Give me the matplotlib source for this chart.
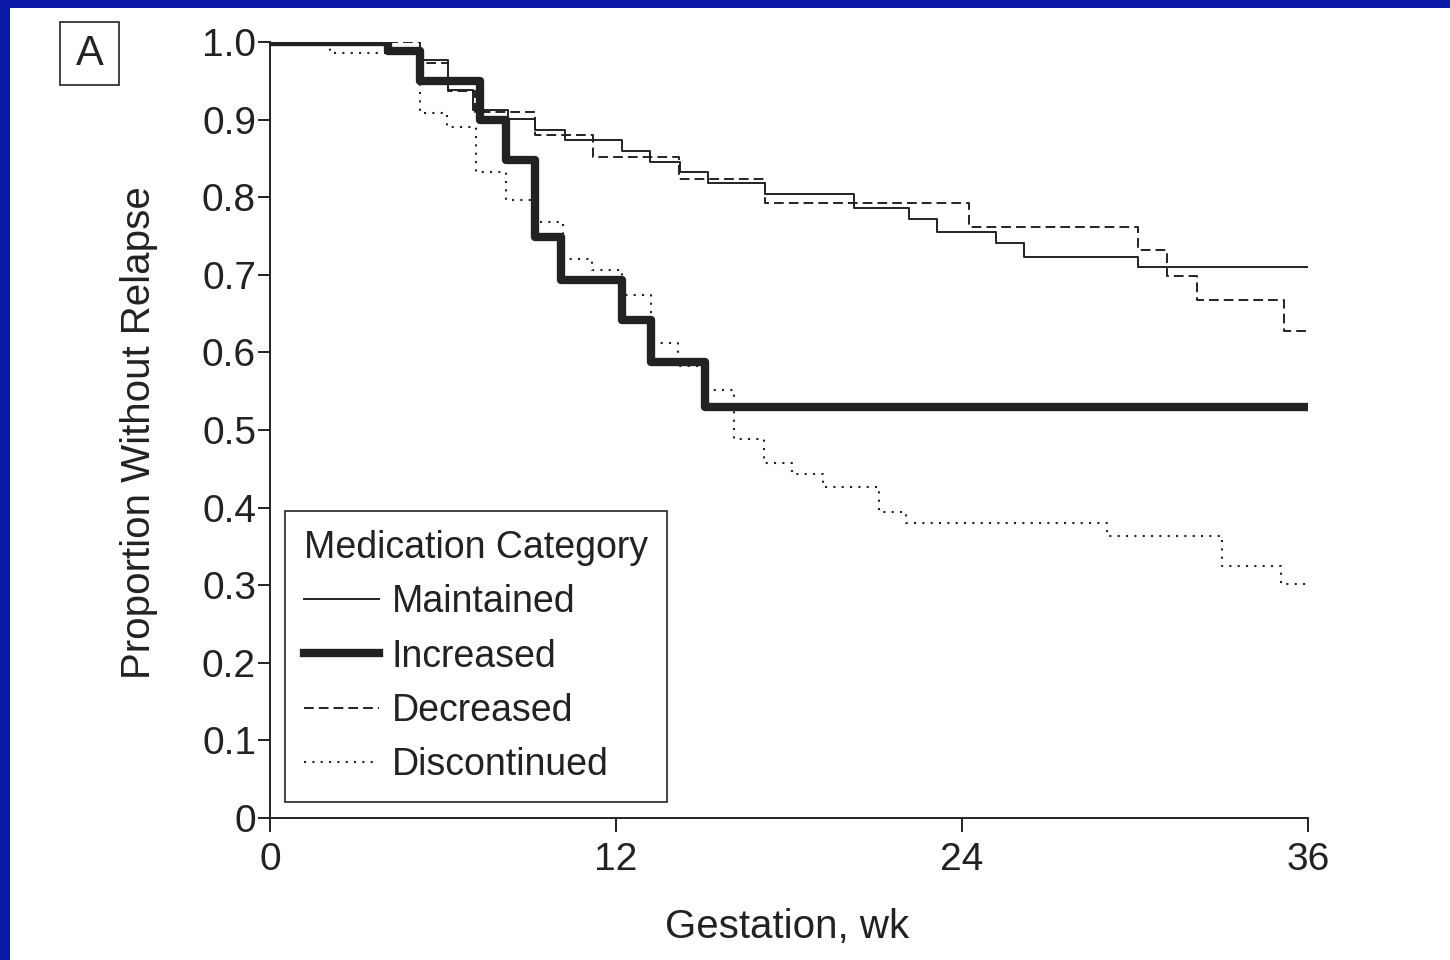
import matplotlib
matplotlib.use('Agg')
import matplotlib.pyplot as plt
from matplotlib.patches import Rectangle

plt.rcParams['font.family'] = ['Liberation Sans', 'DejaVu Sans']

# Kaplan-Meier style steps (weeks, proportion)
maint_t = [0, 4.1, 5.2, 6.18, 7.05, 8.27, 9.2, 10.23, 12.2, 13.18, 14.22, 15.2,
           17.17, 20.26, 22.16, 23.13, 25.18, 26.14, 30.1, 36]
maint_v = [1.0, 0.988, 0.977, 0.938, 0.913, 0.901, 0.887, 0.874, 0.860, 0.846, 0.832, 0.818,
           0.804, 0.786, 0.772, 0.755, 0.741, 0.723, 0.710, 0.710]

incr_t = [0, 4.1, 5.2, 7.28, 8.2, 9.2, 10.1, 12.2, 13.2, 15.1, 36]
incr_v = [1.0, 0.988, 0.950, 0.899, 0.848, 0.749, 0.693, 0.642, 0.588, 0.530, 0.530]

decr_t = [0, 5.2, 6.18, 7.1, 9.2, 11.2, 14.2, 17.17, 24.23, 30.1, 31.1, 32.15, 35.17, 36]
decr_v = [1.0, 0.973, 0.937, 0.910, 0.880, 0.852, 0.824, 0.793, 0.762, 0.732, 0.699, 0.668, 0.627, 0.627]

disc_t = [0, 2.08, 5.2, 6.13, 7.15, 8.2, 9.2, 10.17, 11.16, 12.2, 13.2, 14.14, 15.05, 16.08,
          17.13, 18.09, 19.19, 21.12, 22.06, 29.02, 33.03, 35.07, 36]
disc_v = [1.0, 0.986, 0.908, 0.890, 0.833, 0.796, 0.768, 0.720, 0.706, 0.674, 0.612, 0.582, 0.551, 0.488,
          0.457, 0.443, 0.426, 0.394, 0.380, 0.364, 0.325, 0.301, 0.301]

xticks = [0, 12, 24, 36]
yticks = [0, 0.1, 0.2, 0.3, 0.4, 0.5, 0.6, 0.7, 0.8, 0.9, 1.0]
ytick_labels = ['0', '0.1', '0.2', '0.3', '0.4', '0.5', '0.6', '0.7', '0.8', '0.9', '1.0']

ink = '#222222'

fig = plt.figure(figsize=(14.5, 9.6), dpi=100)
fig.patch.set_facecolor('white')

# blue slide border (left and top)
fig.add_artist(Rectangle((0, 0), 10/1450, 1, transform=fig.transFigure,
                         facecolor='#0A1AA6', edgecolor='none'))
fig.add_artist(Rectangle((0, 1 - 8/960), 1, 8/960, transform=fig.transFigure,
                         facecolor='#0A1AA6', edgecolor='none'))

# panel letter
fig.add_artist(Rectangle((60/1450, 1 - 85/960), 59/1450, 63/960, transform=fig.transFigure,
                         facecolor='none', edgecolor=ink, linewidth=1.2))
fig.text(89.5/1450, 1 - 54/960, 'A', ha='center', va='center', fontsize=30, color=ink)

ax = fig.add_axes([270/1450, 1 - 818/960, 1038/1450, 776/960])

ax.step(maint_t, maint_v, where='post', color=ink, lw=1.4, label='Maintained')
ax.step(incr_t, incr_v, where='post', color=ink, lw=6, label='Increased')
ax.step(decr_t, decr_v, where='post', color=ink, lw=1.4, linestyle=(0, (5, 2.6)), label='Decreased')
ax.step(disc_t, disc_v, where='post', color=ink, lw=1.5, linestyle=(0, (1, 3)), label='Discontinued')

ax.set_xlim(0, 36)
ax.set_ylim(0, 1.0)
ax.set_xticks(xticks)
ax.set_yticks(yticks)
ax.set_yticklabels(ytick_labels)
for s in ['top', 'right']:
    ax.spines[s].set_visible(False)
for s in ['left', 'bottom']:
    ax.spines[s].set_linewidth(1.4)
    ax.spines[s].set_color(ink)
ax.tick_params(axis='both', direction='out', width=1.4, color=ink,
               labelsize=28, labelcolor=ink)
ax.tick_params(axis='y', length=9, pad=1)
ax.tick_params(axis='x', length=10, pad=7)

ax.set_xlabel('Gestation, wk', fontsize=29, color=ink)
ax.set_ylabel('Proportion Without Relapse', fontsize=29, color=ink)
ax.xaxis.set_label_coords(0.498, -0.116)
ax.yaxis.set_label_coords(-0.108, 0.497)

leg = ax.legend(title='Medication Category', loc='lower left', bbox_to_anchor=(0.0145, 0.0206),
                borderaxespad=0, fontsize=27, title_fontsize=27, alignment='left',
                fancybox=False, edgecolor=ink, framealpha=1, handlelength=2.0,
                handletextpad=0.35, borderpad=0.5, labelspacing=0.49)
leg.get_frame().set_linewidth(1.2)
for t in leg.get_texts():
    t.set_color(ink)
leg.get_title().set_color(ink)

fig.savefig('out.png', dpi=100)
